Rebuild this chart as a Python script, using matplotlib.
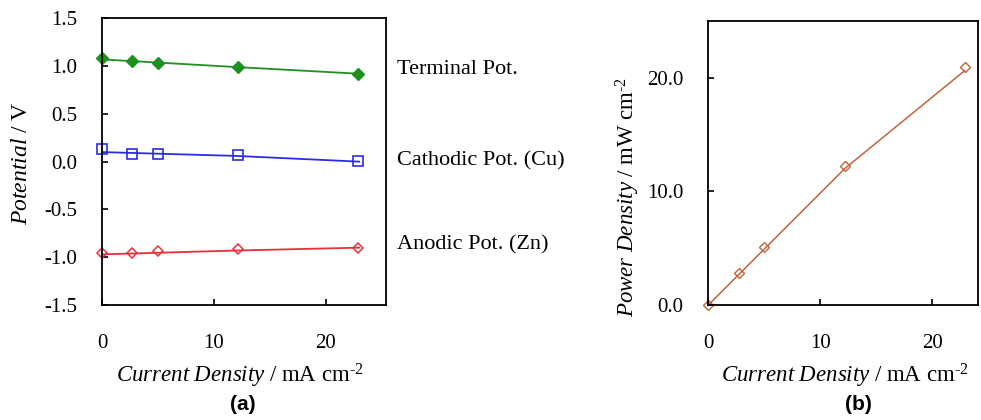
import matplotlib
matplotlib.use("Agg")
from matplotlib import pyplot as plt

plt.rcParams["font.family"] = ["Liberation Serif", "DejaVu Serif"]
plt.rcParams["mathtext.fontset"] = "custom"
plt.rcParams["mathtext.rm"] = "Liberation Serif"
plt.rcParams["mathtext.it"] = "Liberation Serif:italic"

# measured points (current density, mA cm-2)
current = [0.0, 2.7, 5.0, 12.2, 22.9]
terminal = [1.08, 1.05, 1.03, 0.99, 0.92]
cathodic = [0.13, 0.08, 0.08, 0.07, 0.01]
anodic = [-0.96, -0.96, -0.93, -0.91, -0.90]
power = [0.0, 2.84, 5.1, 12.2, 20.9]

# trend lines
fit_x = [0.0, 12.0, 23.0]
terminal_fit = [1.07, 0.99, 0.92]
cathodic_fit = [0.10, 0.06, 0.0]
anodic_fit = [-0.97, -0.93, -0.90]
power_fit_x = [0.0, 12.2, 22.9]
power_fit = [0.0, 12.0, 20.6]

labels_a = ["Terminal Pot.", "Cathodic Pot. (Cu)", "Anodic Pot. (Zn)"]
label_y = [70, 161, 245]

GREEN = "#1f8f1f"
BLUE = "#2b2be6"
RED = "#e8303a"
BROWN = "#c0643c"

fig = plt.figure(figsize=(9.81, 4.2), dpi=100)
W, H = 981.0, 420.0

ax_a = fig.add_axes([102 / W, 1 - 305 / H, (386 - 102) / W, (305 - 18.3) / H])
ax_b = fig.add_axes([708.3 / W, 1 - 305 / H, (978 - 708.3) / W, (305 - 20.7) / H])

ax_a.plot(fit_x, terminal_fit, color=GREEN, lw=1.3)
ax_a.plot(current, terminal, ls="none", marker="D", ms=6, color=GREEN)
ax_a.plot(fit_x, cathodic_fit, color=BLUE, lw=1.3)
ax_a.plot(current, cathodic, ls="none", marker="s", ms=6.5, mfc="none", mec=BLUE, mew=1.2)
ax_a.plot(fit_x, anodic_fit, color=RED, lw=1.3)
ax_a.plot(current, anodic, ls="none", marker="D", ms=5.5, mfc="none", mec=RED, mew=1.1)

ax_a.set_xlim(0, 25.4)
ax_a.set_ylim(-1.5, 1.5)
ax_a.set_xticks([0, 10, 20])
ax_a.set_yticks([-1.5, -1.0, -0.5, 0.0, 0.5, 1.0, 1.5])
ax_a.set_yticklabels(["-1.5", "-1.0", "-0.5", "0.0", "0.5", "1.0", "1.5"])

ax_b.plot(power_fit_x, power_fit, color=BROWN, lw=1.1)
ax_b.plot(current, power, ls="none", marker="D", ms=5.5, mfc="none", mec=BROWN, mew=1.0)
ax_b.set_xlim(0, 24.1)
ax_b.set_ylim(0, 25)
ax_b.set_xticks([0, 10, 20])
ax_b.set_yticks([0, 10, 20])
ax_b.set_yticklabels(["0.0", "10.0", "20.0"])

for ax in (ax_a, ax_b):
    for sp in ax.spines.values():
        sp.set_linewidth(1.3)
    ax.tick_params(direction="in", length=4, width=1.2, labelsize=15)
    ax.tick_params(axis="x", pad=21)
    ax.tick_params(axis="y", pad=18)
    for p in ax.lines:
        p.set_clip_on(False)

for txt, y in zip(labels_a, label_y):
    fig.text(397 / W, 1 - y / H, txt, fontsize=16, va="center", ha="left")

xlab = r"$\mathit{Current\ Density}\ /\ \mathrm{mA\ cm}^{\text{-}2}$"
fig.text(240 / W, 1 - 376 / H, xlab, fontsize=16.5, ha="center", va="center")
fig.text(845 / W, 1 - 376 / H, xlab, fontsize=16.5, ha="center", va="center")
fig.text(22 / W, 1 - 163 / H, r"$\mathit{Potential}\ /\ \mathrm{V}$", fontsize=17,
         rotation=90, ha="center", va="center")
fig.text(628 / W, 1 - 197 / H, r"$\mathit{Power\ Density}\ /\ \mathrm{mW\ cm}^{\text{-}2}$",
         fontsize=16.5, rotation=90, ha="center", va="center")
fig.text(243 / W, 1 - 405 / H, "(a)", fontsize=15, fontweight="bold",
         family=["Liberation Sans", "DejaVu Sans"], ha="center", va="center")
fig.text(858 / W, 1 - 405 / H, "(b)", fontsize=15, fontweight="bold",
         family=["Liberation Sans", "DejaVu Sans"], ha="center", va="center")

fig.savefig("out.png", dpi=100)
